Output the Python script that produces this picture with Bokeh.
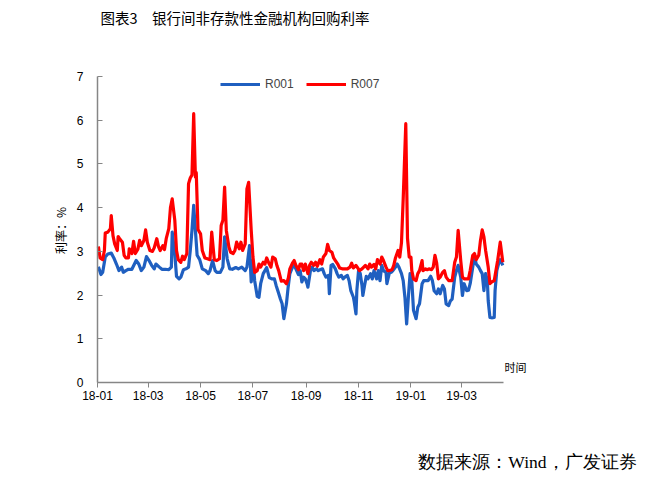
import math
import pandas as pd
from bokeh.plotting import figure
from bokeh.models import (Range1d, FixedTicker, DatetimeTickFormatter, Label,
                          Legend, LegendItem, ColumnDataSource)
from bokeh.embed import file_html
from bokeh.resources import INLINE

# ---------------- data ----------------
r001_dates = [
    "2018-01-02", "2018-01-05", "2018-01-07", "2018-01-10", "2018-01-13", "2018-01-17", "2018-01-20",
    "2018-01-23", "2018-01-26", "2018-01-29", "2018-01-31", "2018-02-03", "2018-02-06", "2018-02-10",
    "2018-02-13", "2018-02-15", "2018-02-18", "2018-02-21", "2018-02-24", "2018-02-27", "2018-03-02",
    "2018-03-05", "2018-03-08", "2018-03-10", "2018-03-14", "2018-03-17", "2018-03-21", "2018-03-25",
    "2018-03-28", "2018-03-29", "2018-04-01", "2018-04-03", "2018-04-06", "2018-04-08", "2018-04-11",
    "2018-04-14", "2018-04-17", "2018-04-19", "2018-04-21", "2018-04-23", "2018-04-25", "2018-04-27",
    "2018-04-30", "2018-05-03", "2018-05-07", "2018-05-10", "2018-05-12", "2018-05-15", "2018-05-18",
    "2018-05-20", "2018-05-24", "2018-05-27", "2018-05-29", "2018-06-01", "2018-06-04", "2018-06-07",
    "2018-06-11", "2018-06-14", "2018-06-18", "2018-06-22", "2018-06-24", "2018-06-27", "2018-06-29",
    "2018-07-01", "2018-07-03", "2018-07-06", "2018-07-08", "2018-07-10", "2018-07-13", "2018-07-15",
    "2018-07-17", "2018-07-20", "2018-07-23", "2018-07-26", "2018-07-28", "2018-07-30", "2018-08-02",
    "2018-08-04", "2018-08-06", "2018-08-09", "2018-08-11", "2018-08-13", "2018-08-16", "2018-08-18",
    "2018-08-20", "2018-08-23", "2018-08-25", "2018-08-27", "2018-08-29", "2018-08-31", "2018-09-02",
    "2018-09-03", "2018-09-06", "2018-09-08", "2018-09-10", "2018-09-13", "2018-09-15", "2018-09-17",
    "2018-09-20", "2018-09-22", "2018-09-24", "2018-09-27", "2018-09-28", "2018-09-30", "2018-10-02",
    "2018-10-05", "2018-10-07", "2018-10-09", "2018-10-12", "2018-10-14", "2018-10-16", "2018-10-19",
    "2018-10-21", "2018-10-23", "2018-10-26", "2018-10-27", "2018-10-29", "2018-10-30", "2018-11-01",
    "2018-11-03", "2018-11-05", "2018-11-06", "2018-11-08", "2018-11-10", "2018-11-12", "2018-11-15",
    "2018-11-17", "2018-11-19", "2018-11-22", "2018-11-24", "2018-11-26", "2018-11-28", "2018-11-30",
    "2018-12-03", "2018-12-04", "2018-12-07", "2018-12-09", "2018-12-11", "2018-12-14", "2018-12-16",
    "2018-12-18", "2018-12-21", "2018-12-23", "2018-12-25", "2018-12-27", "2018-12-29", "2018-12-31",
    "2019-01-02", "2019-01-04", "2019-01-07", "2019-01-09", "2019-01-11", "2019-01-14", "2019-01-16",
    "2019-01-18", "2019-01-21", "2019-01-24", "2019-01-26", "2019-01-28", "2019-01-31", "2019-02-02",
    "2019-02-04", "2019-02-07", "2019-02-09", "2019-02-11", "2019-02-14", "2019-02-16", "2019-02-18",
    "2019-02-21", "2019-02-23", "2019-02-25", "2019-02-28", "2019-03-02", "2019-03-04", "2019-03-07",
    "2019-03-09", "2019-03-11", "2019-03-14", "2019-03-16", "2019-03-18", "2019-03-21", "2019-03-23",
    "2019-03-25", "2019-03-27", "2019-03-29", "2019-03-31", "2019-04-01", "2019-04-03", "2019-04-05",
    "2019-04-08", "2019-04-09", "2019-04-11", "2019-04-13", "2019-04-15", "2019-04-18",
]
r001_vals = [
    2.65, 2.47, 2.52, 2.87, 2.94, 2.96, 2.85,
    2.71, 2.56, 2.64, 2.52, 2.56, 2.59, 2.59,
    2.71, 2.79, 2.71, 2.56, 2.64, 2.88, 2.79,
    2.68, 2.60, 2.71, 2.64, 2.59, 2.59, 2.58,
    2.64, 3.44, 2.94, 2.43, 2.37, 2.41, 2.58,
    2.60, 2.64, 3.02, 3.48, 4.05, 3.48, 2.91,
    2.81, 2.60, 2.56, 2.49, 2.56, 2.79, 2.56,
    2.52, 2.52, 2.64, 3.33, 2.83, 2.60, 2.59,
    2.63, 2.60, 2.64, 2.56, 2.64, 3.13, 2.30,
    2.79, 2.33, 1.97, 1.95, 2.26, 2.49, 2.56,
    2.63, 2.40, 2.37, 2.37, 2.22, 2.10, 1.91,
    1.80, 1.46, 1.80, 2.18, 2.49, 2.64, 2.68,
    2.60, 2.47, 2.56, 2.30, 2.41, 2.37, 2.26,
    2.18, 2.56, 2.64, 2.56, 2.60, 2.56, 2.58,
    2.60, 2.49, 2.41, 2.45, 2.03, 2.68, 2.70,
    2.60, 2.49, 2.41, 2.45, 2.37, 2.41, 2.45,
    2.33, 2.10, 1.95, 1.84, 1.57, 2.10, 2.56,
    2.49, 2.22, 1.99, 2.22, 2.43, 2.37, 2.49,
    2.37, 2.56, 2.37, 2.56, 2.33, 2.68, 2.56,
    2.52, 2.26, 2.52, 2.52, 2.56, 2.64, 2.71,
    2.64, 2.49, 2.33, 1.95, 1.34, 1.95, 2.49,
    2.33, 1.65, 1.46, 1.72, 1.80, 2.26, 2.33,
    2.33, 2.33, 2.43, 2.33, 2.10, 2.03, 2.14,
    2.03, 2.22, 2.14, 1.80, 1.76, 1.87, 1.91,
    2.41, 2.56, 2.68, 2.41, 1.99, 2.26, 2.10,
    2.11, 2.26, 2.64, 2.91, 2.71, 2.64, 2.56,
    2.49, 2.10, 2.49, 2.33, 1.87, 1.49, 1.48,
    1.49, 2.10, 2.56, 2.71, 2.81, 2.68,
]

r007_dates = [
    "2018-01-02", "2018-01-04", "2018-01-07", "2018-01-09", "2018-01-10", "2018-01-13", "2018-01-16",
    "2018-01-17", "2018-01-19", "2018-01-21", "2018-01-24", "2018-01-25", "2018-01-27", "2018-01-30",
    "2018-02-01", "2018-02-03", "2018-02-06", "2018-02-07", "2018-02-10", "2018-02-12", "2018-02-14",
    "2018-02-17", "2018-02-19", "2018-02-21", "2018-02-24", "2018-02-26", "2018-02-28", "2018-03-03",
    "2018-03-06", "2018-03-08", "2018-03-11", "2018-03-13", "2018-03-15", "2018-03-18", "2018-03-20",
    "2018-03-22", "2018-03-25", "2018-03-27", "2018-03-29", "2018-04-01", "2018-04-03", "2018-04-05",
    "2018-04-08", "2018-04-10", "2018-04-12", "2018-04-15", "2018-04-17", "2018-04-19", "2018-04-21",
    "2018-04-23", "2018-04-25", "2018-04-26", "2018-04-28", "2018-05-01", "2018-05-03", "2018-05-06",
    "2018-05-09", "2018-05-12", "2018-05-14", "2018-05-17", "2018-05-20", "2018-05-23", "2018-05-25",
    "2018-05-27", "2018-05-29", "2018-05-31", "2018-06-03", "2018-06-05", "2018-06-08", "2018-06-10",
    "2018-06-12", "2018-06-15", "2018-06-17", "2018-06-19", "2018-06-22", "2018-06-24", "2018-06-26",
    "2018-06-29", "2018-07-01", "2018-07-03", "2018-07-06", "2018-07-08", "2018-07-10", "2018-07-13",
    "2018-07-15", "2018-07-17", "2018-07-20", "2018-07-22", "2018-07-24", "2018-07-27", "2018-07-29",
    "2018-07-31", "2018-08-03", "2018-08-06", "2018-08-09", "2018-08-11", "2018-08-13", "2018-08-16",
    "2018-08-18", "2018-08-20", "2018-08-23", "2018-08-25", "2018-08-27", "2018-08-29", "2018-08-31",
    "2018-09-03", "2018-09-05", "2018-09-07", "2018-09-10", "2018-09-12", "2018-09-14", "2018-09-17",
    "2018-09-19", "2018-09-21", "2018-09-24", "2018-09-26", "2018-09-28", "2018-10-01", "2018-10-03",
    "2018-10-05", "2018-10-08", "2018-10-10", "2018-10-13", "2018-10-16", "2018-10-19", "2018-10-22",
    "2018-10-24", "2018-10-26", "2018-10-29", "2018-10-31", "2018-11-02", "2018-11-05", "2018-11-07",
    "2018-11-09", "2018-11-12", "2018-11-14", "2018-11-16", "2018-11-19", "2018-11-21", "2018-11-23",
    "2018-11-26", "2018-11-28", "2018-11-30", "2018-12-03", "2018-12-05", "2018-12-07", "2018-12-10",
    "2018-12-12", "2018-12-14", "2018-12-17", "2018-12-19", "2018-12-21", "2018-12-23", "2018-12-26",
    "2018-12-28", "2018-12-30", "2019-01-01", "2019-01-02", "2019-01-04", "2019-01-07", "2019-01-09",
    "2019-01-11", "2019-01-14", "2019-01-15", "2019-01-18", "2019-01-20", "2019-01-22", "2019-01-25",
    "2019-01-27", "2019-01-29", "2019-01-31", "2019-02-02", "2019-02-04", "2019-02-07", "2019-02-09",
    "2019-02-11", "2019-02-14", "2019-02-16", "2019-02-18", "2019-02-21", "2019-02-23", "2019-02-25",
    "2019-02-28", "2019-03-02", "2019-03-04", "2019-03-07", "2019-03-09", "2019-03-11", "2019-03-14",
    "2019-03-16", "2019-03-18", "2019-03-21", "2019-03-23", "2019-03-25", "2019-03-27", "2019-03-29",
    "2019-04-01", "2019-04-03", "2019-04-05", "2019-04-08", "2019-04-10", "2019-04-12", "2019-04-15",
    "2019-04-16", "2019-04-18",
]
r007_vals = [
    3.11, 2.85, 2.81, 3.02, 3.42, 3.44, 3.52,
    3.82, 3.36, 3.17, 3.02, 3.34, 3.28, 3.21,
    2.91, 2.85, 2.85, 3.06, 2.95, 3.23, 2.95,
    3.05, 3.25, 3.13, 3.25, 3.49, 3.21, 3.02,
    3.00, 3.08, 3.29, 3.11, 3.02, 3.13, 3.04,
    3.29, 3.52, 4.01, 4.20, 3.71, 3.02, 2.81,
    2.75, 2.89, 2.81, 2.95, 4.55, 4.68, 4.75,
    6.15, 4.70, 4.80, 3.50, 3.40, 3.02, 2.85,
    2.83, 2.81, 3.44, 2.81, 2.79, 2.83, 3.59,
    3.71, 4.47, 3.48, 3.10, 2.98, 2.95, 3.02,
    3.21, 3.06, 3.21, 3.02, 3.17, 4.43, 4.58,
    3.48, 2.87, 2.52, 2.56, 2.71, 2.64, 2.75,
    2.71, 2.85, 2.71, 2.64, 2.87, 2.83, 2.67,
    2.56, 2.32, 2.33, 2.26, 2.37, 2.60, 2.73,
    2.79, 2.68, 2.58, 2.71, 2.71, 2.56, 2.71,
    2.49, 2.68, 2.75, 2.68, 2.75, 2.66, 2.81,
    2.71, 2.87, 2.95, 3.16, 3.02, 2.98, 2.85,
    2.79, 2.70, 2.62, 2.60, 2.60, 2.60, 2.64,
    2.73, 2.62, 2.68, 2.62, 2.56, 2.60, 2.64,
    2.68, 2.60, 2.71, 2.64, 2.70, 2.60, 2.81,
    2.71, 2.87, 2.79, 2.64, 2.56, 2.56, 2.58,
    2.68, 2.85, 3.02, 2.87, 3.20, 4.20, 5.92,
    3.30, 2.87, 2.87, 2.56, 2.37, 2.33, 2.49,
    2.56, 2.79, 2.56, 2.60, 2.58, 2.60, 2.58,
    2.64, 2.91, 2.73, 2.37, 2.41, 2.52, 2.56,
    2.41, 2.33, 2.33, 2.33, 2.75, 2.87, 3.48,
    2.79, 2.41, 2.37, 2.37, 2.37, 2.56, 2.91,
    2.95, 2.81, 2.91, 3.25, 3.49, 3.33, 3.02,
    2.64, 2.26, 2.30, 2.33, 2.56, 2.79, 3.21,
    3.06, 2.75,
]

series_names = ["R001", "R007"]
series_colors = ["#1F5FC0", "#FF0000"]
tick_dates = ["2018-01-01", "2018-03-01", "2018-05-01", "2018-07-01",
              "2018-09-01", "2018-11-01", "2019-01-01", "2019-03-01"]
y_ticks = [0, 1, 2, 3, 4, 5, 6, 7]
title_text = "图表3\u3000银行间非存款性金融机构回购利率"
ylabel_text = "利率：%"
xlabel_text = "时间"
source_text = "数据来源：Wind，广发证券"

# axis extents (data) and the whole-canvas view window
x_axis_start, x_axis_end = "2018-01-01", "2019-04-19"
x_view = ("2017-09-10", "2019-10-14")
y_axis_start, y_axis_end = 0, 7
y_view = (-2.242, 8.739)


def ms(d):
    return pd.Timestamp(d).value / 1e6


# ---------------- figure ----------------
p = figure(width=656, height=480, output_backend="svg", toolbar_location=None,
           x_axis_type="datetime",
           x_range=Range1d(pd.Timestamp(x_view[0]), pd.Timestamp(x_view[1])),
           y_range=Range1d(*y_view),
           min_border=0, min_border_left=0, min_border_right=0,
           min_border_top=0, min_border_bottom=0)
p.outline_line_color = None
p.grid.visible = False
p.background_fill_color = "white"
p.border_fill_color = "white"

src1 = ColumnDataSource(dict(x=pd.to_datetime(r001_dates), y=r001_vals))
src7 = ColumnDataSource(dict(x=pd.to_datetime(r007_dates), y=r007_vals))
l1 = p.line("x", "y", source=src1, line_color=series_colors[0], line_width=3.2, line_join="round")
l7 = p.line("x", "y", source=src7, line_color=series_colors[1], line_width=3.2, line_join="round")

xa = p.xaxis[0]
xa.fixed_location = y_axis_start
xa.bounds = (ms(x_axis_start), ms(x_axis_end))
xa.ticker = FixedTicker(ticks=[ms(d) for d in tick_dates])
fmt = "%y-%m"
xa.formatter = DatetimeTickFormatter(years=fmt, months=fmt, days=fmt, hours=fmt, minutes=fmt,
                                     seconds=fmt, milliseconds=fmt, microseconds=fmt,
                                     hourmin=fmt, minsec=fmt)
xa.major_tick_in = 0
xa.major_tick_out = 5
xa.minor_tick_line_color = None
xa.axis_line_color = "#868686"
xa.axis_line_width = 1.5
xa.major_tick_line_color = "#868686"
xa.major_label_text_font = "Liberation Sans"
xa.major_label_text_font_size = "12px"
xa.major_label_text_color = "black"
xa.major_label_standoff = 4

ya = p.yaxis[0]
ya.fixed_location = ms(x_axis_start)
ya.bounds = (y_axis_start, y_axis_end)
ya.ticker = FixedTicker(ticks=y_ticks)
ya.major_tick_in = 5
ya.major_tick_out = 0
ya.minor_tick_line_color = None
ya.axis_line_color = "#868686"
ya.axis_line_width = 1.5
ya.major_tick_line_color = "#868686"
ya.major_label_text_font = "Liberation Sans"
ya.major_label_text_font_size = "12px"
ya.major_label_text_color = "black"
ya.major_label_standoff = 14

legend = Legend(items=[LegendItem(label=series_names[0], renderers=[l1]),
                       LegendItem(label=series_names[1], renderers=[l7])],
                orientation="horizontal", location=(220, 386),
                glyph_width=40, glyph_height=20, label_standoff=5, spacing=12,
                padding=0, margin=0, border_line_color=None, background_fill_alpha=0,
                label_text_font="Liberation Sans", label_text_font_size="12px")
p.add_layout(legend, "center")

cjk = "Noto Sans CJK SC"
p.add_layout(Label(x=100, y=463, x_units="screen", y_units="screen", text=title_text,
                   text_font=cjk, text_font_size="14.5px", text_font_style="normal",
                   text_baseline="middle", text_align="left", text_color="black"))
p.add_layout(Label(x=60, y=250, x_units="screen", y_units="screen", text=ylabel_text,
                   angle=math.pi / 2, text_font=cjk, text_font_size="12px",
                   text_baseline="middle", text_align="center", text_color="black"))
p.add_layout(Label(x=504, y=114, x_units="screen", y_units="screen", text=xlabel_text,
                   text_font=cjk, text_font_size="11px", text_baseline="middle",
                   text_align="left", text_color="black"))
p.add_layout(Label(x=636, y=19, x_units="screen", y_units="screen", text=source_text,
                   text_font="Liberation Serif", text_font_size="17.5px",
                   text_baseline="middle", text_align="right", text_color="black"))

open("out.html", "w").write(file_html(p, INLINE))
